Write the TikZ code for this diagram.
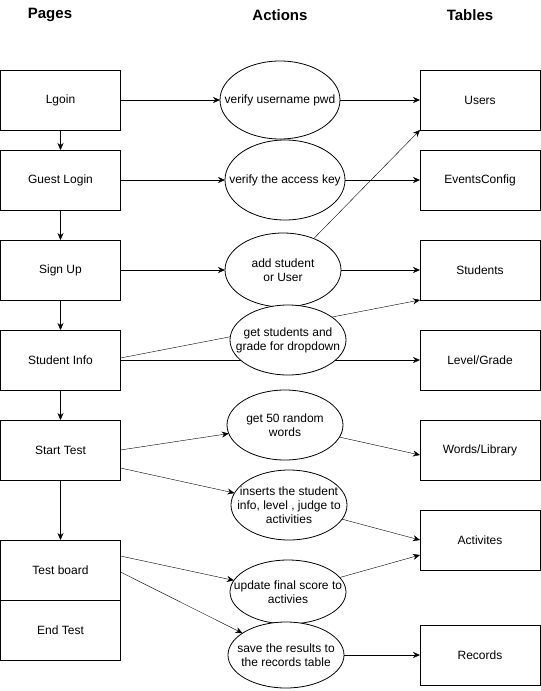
\documentclass[tikz,border=0pt]{standalone}
\usepackage{fontspec}
\setmainfont{Liberation Sans}
\usetikzlibrary{arrows.meta,positioning,shapes.geometric,backgrounds}

\begin{document}
\begin{tikzpicture}[
  x=1pt,y=-1pt,
  line width=0.8pt,
  font=\fontsize{12}{14}\selectfont,
  node distance=30pt,
  pagebox/.style={draw,fill=white,minimum width=120pt,minimum height=60pt,inner sep=0pt,outer sep=0pt},
  tablebox/.style={draw,fill=white,minimum width=120pt,minimum height=60pt,inner sep=0pt,outer sep=0pt},
  act/.style={ellipse,draw,fill=white,minimum width=116pt,minimum height=70pt,inner sep=0pt,outer sep=0pt,
    label={[align=center,inner sep=0pt]center:#1}},
  head/.style={font=\fontsize{15}{18}\selectfont\bfseries},
  arr/.style={-{Stealth[length=7pt,width=6pt]}}
]
\useasboundingbox (0,0) rectangle (541,691);

% column heads
\node[head] (hpages) at (50,15) {Pages};
\node[head] (hactions) at (280,15) {Actions};
\node[head] (htables) at (470,15) {Tables};

% pages
\node[pagebox] (login) at (60.5,100) {Lgoin};
\node[pagebox,below=20pt of login] (guest) {Guest Login};
\node[pagebox,below=of guest] (signup) {Sign Up};
\node[pagebox,below=of signup] (info) {Student Info};
\node[pagebox,below=of info] (start) {Start Test};
\node[pagebox,below=60pt of start] (board) {Test board};
\node[pagebox,below=0pt of board] (endtest) {End Test};

% tables
\node[tablebox] (users) at (480,100) {Users};
\node[tablebox,below=20pt of users] (events) {EventsConfig};
\node[tablebox,below=of events] (students) {Students};
\node[tablebox,below=of students] (level) {Level/Grade};
\node[tablebox,below=of level] (words) {Words/Library};
\node[tablebox,below=of words] (activ) {Activites};
\node[tablebox,below=55pt of activ] (records) {Records};

% actions
\node[act={verify username pwd},minimum width=120pt,minimum height=78pt] (vuser) at (280,100) {};
\node[act={verify the access key},minimum width=120pt,minimum height=80pt] (vkey) at (285,180) {};
\node[act={add student\\or User},minimum height=74pt] (addst) at (283,270) {};
\node[act={get students and\\grade for dropdown}] (getst) at (288,340) {};
\node[act={get 50 random\\words}] (getw) at (285,425) {};
\node[act={inserts the student\\info, level , judge to\\activities}] (ins) at (289,505) {};
\node[act={update final score to\\activies},minimum height=64pt] (upd) at (288,592) {};
\node[act={save the results to\\the records table},minimum height=66pt] (save) at (286,655) {};

\begin{scope}[on background layer]
\draw[arr] (login) -- (vuser);
\draw[arr] (vuser) -- (users);
\draw[arr] (guest) -- (vkey);
\draw[arr] (vkey) -- (events);
\draw[arr] (signup) -- (addst);
\draw[arr] (addst) -- (students);
\draw[arr] (addst) -- (users.south west);
\draw[arr] ([yshift=2pt]info.east) -- (students.south west);
\draw[arr] (info) -- (level);
\draw[arr] (start.east) -- (getw);
\draw[arr] ([yshift=-18pt]start.east) -- (ins);
\draw[arr] (getw) -- ([yshift=-5pt]words.west);
\draw[arr] (ins) -- (activ.west);
\draw[arr] ([yshift=14pt]board.east) -- (upd);
\draw[arr] (upd) -- ([yshift=-15pt]activ.west);
\draw[arr] ([yshift=-2pt]board.east) -- (save);
\draw[arr] (save) -- (records);

\draw[arr] (login) -- (guest);
\draw[arr] (guest) -- (signup);
\draw[arr] (signup) -- (info);
\draw[arr] (info) -- (start);
\draw[arr] (start) -- (board);
\end{scope}
\end{tikzpicture}
\end{document}
